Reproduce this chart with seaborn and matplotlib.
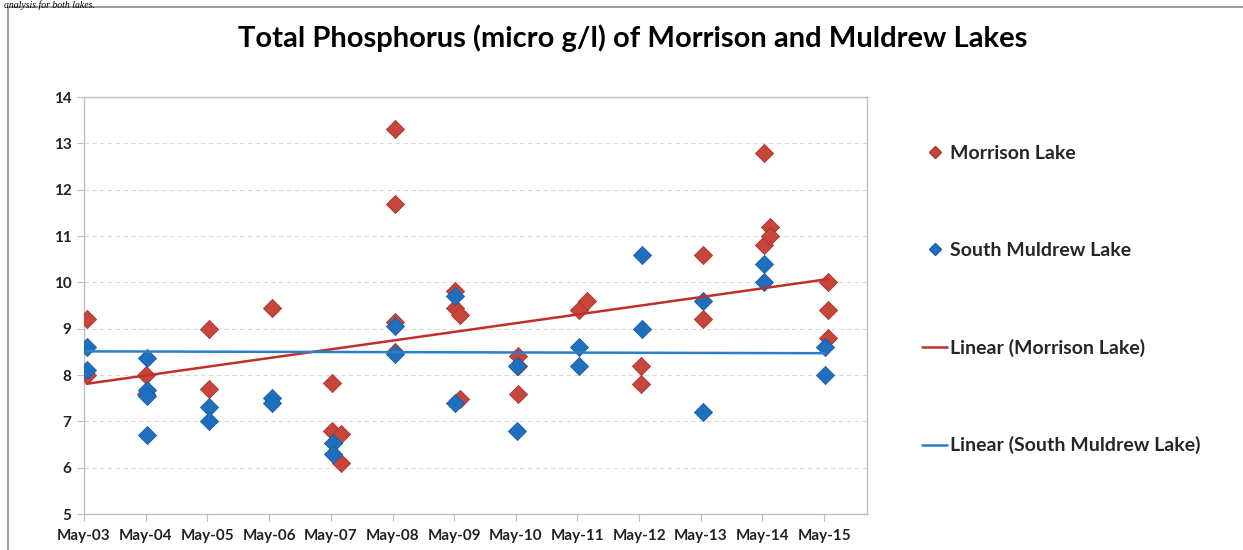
import numpy as np
import pandas as pd
import seaborn as sns
import matplotlib
matplotlib.use('Agg')
import matplotlib.pyplot as plt
import matplotlib.dates as mdates
from matplotlib.lines import Line2D
from matplotlib.patches import Rectangle

# --- dados ---
morrison_dates = ['2003-05-17', '2003-05-17', '2004-05-05', '2004-05-05', '2005-05-11', '2005-05-11',
                  '2006-05-19', '2007-05-11', '2007-05-11', '2007-06-30', '2007-06-30',
                  '2008-05-17', '2008-05-17', '2008-05-17', '2008-05-17',
                  '2009-05-09', '2009-05-09', '2009-06-05', '2009-06-05',
                  '2010-05-17', '2010-05-17', '2010-05-17', '2011-05-09', '2011-06-24',
                  '2012-05-13', '2012-05-13', '2013-05-15', '2013-05-15',
                  '2014-05-09', '2014-05-09', '2014-06-14', '2014-06-14',
                  '2015-05-25', '2015-05-25', '2015-05-25']
morrison_tp = [9.2, 8.0, 8.0, 7.6, 9.0, 7.7,
               9.45, 7.83, 6.8, 6.72, 6.1,
               13.3, 11.7, 9.15, 8.5,
               9.82, 9.45, 9.3, 7.48,
               8.4, 8.2, 7.6, 9.4, 9.6,
               8.2, 7.8, 10.6, 9.2,
               12.8, 10.8, 11.2, 11.0,
               10.0, 9.4, 8.8]

muldrew_dates = ['2003-05-17', '2003-05-17', '2004-05-11', '2004-05-11', '2004-05-11', '2004-05-11',
                 '2005-05-11', '2005-05-11', '2006-05-19', '2006-05-19', '2007-05-13', '2007-05-13',
                 '2008-05-17', '2008-05-17', '2009-05-09', '2009-05-09', '2010-05-11', '2010-05-11',
                 '2011-05-09', '2011-05-09', '2012-05-19', '2012-05-19', '2013-05-15', '2013-05-15',
                 '2014-05-09', '2014-05-09', '2015-05-09', '2015-05-09']
muldrew_tp = [8.6, 8.1, 8.37, 7.68, 7.55, 6.7,
              7.3, 7.0, 7.5, 7.4, 6.53, 6.3,
              9.05, 8.45, 9.7, 7.4, 8.2, 6.8,
              8.6, 8.2, 10.6, 9.0, 9.6, 7.2,
              10.4, 10.0, 8.6, 8.0]

morrison_trend_dates = ['2003-05-17', '2015-05-25']
morrison_trend = [7.81, 10.07]
muldrew_trend_dates = ['2003-05-17', '2015-05-09']
muldrew_trend = [8.51, 8.47]

tick_years = list(range(2003, 2016))

RED = '#C8453C'
RED_EDGE = '#A3342D'
BLUE = '#1F6FBF'
BLUE_EDGE = '#1A5EA3'
RED_LINE = '#C0302A'
BLUE_LINE = '#2B7FC8'

FONT = ['Lato', 'DejaVu Sans']


def build_frame():
    df_m = pd.DataFrame({'date': pd.to_datetime(morrison_dates), 'tp': morrison_tp,
                         'lake': 'Morrison Lake'})
    df_s = pd.DataFrame({'date': pd.to_datetime(muldrew_dates), 'tp': muldrew_tp,
                         'lake': 'South Muldrew Lake'})
    return df_m, df_s


def main():
    sns.set_theme(style='white')
    plt.rcParams['font.family'] = FONT

    fig = plt.figure(figsize=(12.43, 5.5), dpi=100)
    ax = fig.add_axes([84 / 1243, 1 - 514 / 550, (867 - 84) / 1243, (514 - 97) / 550])

    # moldura do gráfico e texto do documento acima dela
    fig.patches.append(Rectangle((8 / 1243, -0.2), 1.2, 1.2 - 6.5 / 550, transform=fig.transFigure,
                                 fill=False, edgecolor='#8C8C8C', linewidth=1.2))
    fig.text(4 / 1243, 1.0, 'analysis for both lakes.', family=['Liberation Serif'],
             fontsize=7, style='italic', va='top', ha='left', color='black')

    df_m, df_s = build_frame()

    sns.scatterplot(data=df_m, x='date', y='tp', marker='D', s=85, color=RED,
                    edgecolor=RED_EDGE, linewidth=0.6, ax=ax, legend=False, zorder=3)
    sns.scatterplot(data=df_s, x='date', y='tp', marker='D', s=85, color=BLUE,
                    edgecolor=BLUE_EDGE, linewidth=0.6, ax=ax, legend=False, zorder=4)

    trend_m = pd.DataFrame({'date': pd.to_datetime(morrison_trend_dates), 'tp': morrison_trend})
    trend_s = pd.DataFrame({'date': pd.to_datetime(muldrew_trend_dates), 'tp': muldrew_trend})
    sns.lineplot(data=trend_m, x='date', y='tp', color=RED_LINE, linewidth=1.8, ax=ax, zorder=5)
    sns.lineplot(data=trend_s, x='date', y='tp', color=BLUE_LINE, linewidth=1.8, ax=ax, zorder=5)

    # eixos
    ax.set_ylim(5, 14)
    ax.set_yticks(range(5, 15))
    ax.set_xlim(pd.Timestamp('2003-05-01'), pd.Timestamp('2016-01-10'))
    ax.set_xticks([pd.Timestamp(f'{y}-05-01') for y in tick_years])
    ax.xaxis.set_major_formatter(mdates.DateFormatter('%b-%y'))
    ax.set_xlabel('')
    ax.set_ylabel('')

    for lbl in ax.get_xticklabels() + ax.get_yticklabels():
        lbl.set_fontweight('bold')
        lbl.set_fontsize(11)
        lbl.set_color('#222222')

    ax.tick_params(axis='both', which='major', length=5, width=0.8, color='#BFBFBF',
                   direction='out', bottom=True, left=True, pad=4)
    ax.tick_params(axis='x', pad=6)

    for side in ['left', 'bottom', 'right', 'top']:
        ax.spines[side].set_color('#BFBFBF')
        ax.spines[side].set_linewidth(1.0)

    ax.yaxis.grid(True, linestyle=(0, (4, 3)), color='#DADADA', linewidth=0.8)
    ax.set_axisbelow(True)

    # título
    fig.text(633 / 1243, 1 - 38 / 550, 'Total Phosphorus (micro g/l) of Morrison and Muldrew Lakes',
             ha='center', va='center', fontsize=21, fontweight='bold', color='black')

    # legenda
    handles = [
        Line2D([], [], marker='D', linestyle='none', markersize=6, markerfacecolor=RED,
               markeredgecolor=RED_EDGE),
        Line2D([], [], marker='D', linestyle='none', markersize=6, markerfacecolor=BLUE,
               markeredgecolor=BLUE_EDGE),
        Line2D([], [], color=RED_LINE, linewidth=1.8),
        Line2D([], [], color=BLUE_LINE, linewidth=1.8),
    ]
    labels = ['Morrison Lake', 'South Muldrew Lake', 'Linear (Morrison Lake)',
              'Linear (South Muldrew Lake)']
    fig.legend(handles, labels, loc='upper left', bbox_to_anchor=(922 / 1243, 1 - 145 / 550),
               frameon=False, prop={'family': FONT, 'weight': 'bold', 'size': 14},
               handlelength=1.3, handletextpad=0.15, labelspacing=4.1, borderpad=0,
               borderaxespad=0)

    fig.savefig('out.png', dpi=100)


if __name__ == '__main__':
    main()
